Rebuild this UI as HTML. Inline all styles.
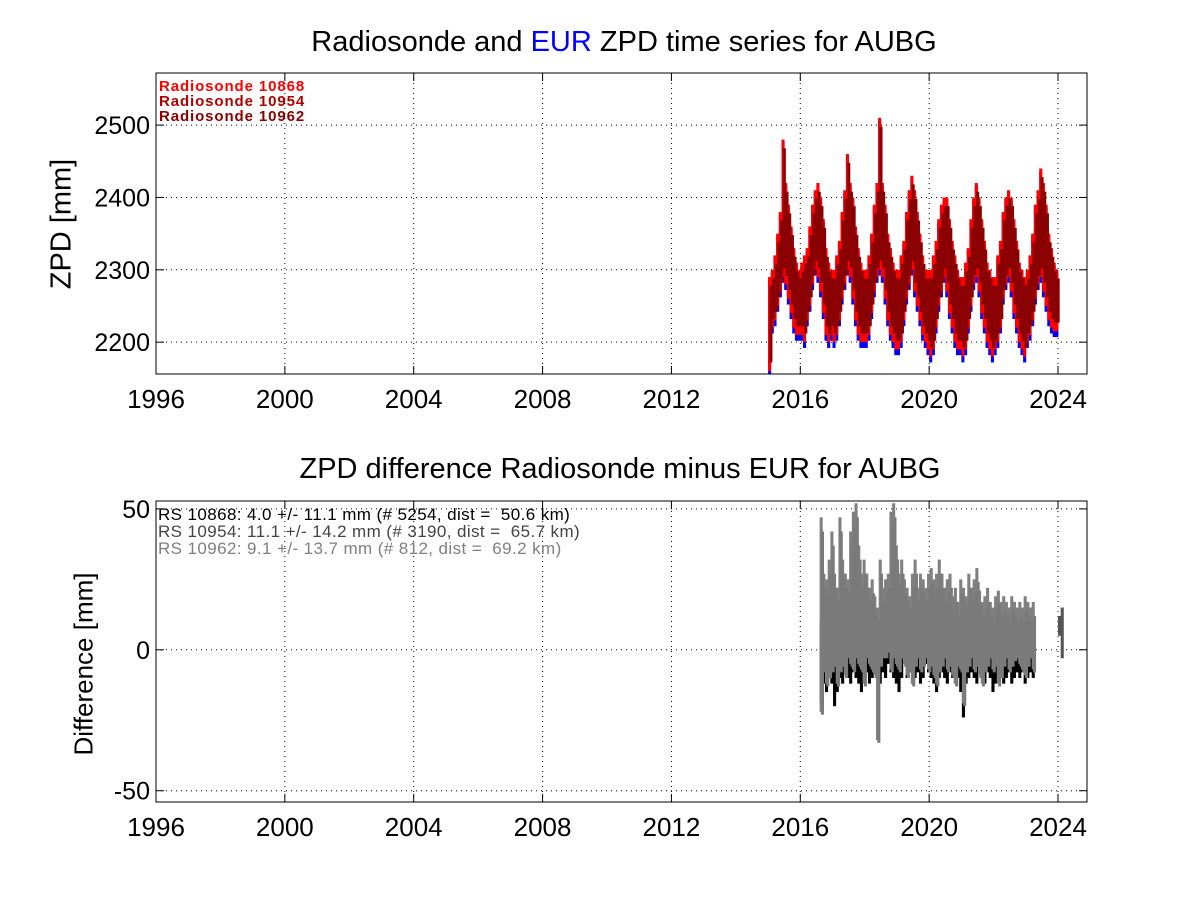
<!DOCTYPE html>
<html><head><meta charset="utf-8"><style>
body{margin:0;background:#fff;}
svg{display:block;font-family:"Liberation Sans",sans-serif;}
</style></head><body>
<svg id="c" width="1201" height="901" viewBox="0 0 1201 901">
<rect width="1201" height="901" fill="#fff"/>
</svg>
<script>
// ---------- data ----------
const xTicks = [1996,2000,2004,2008,2012,2016,2020,2024];
const zpdTicks = [2200,2300,2400,2500];
const diffTicks = [-50,0,50];
const zpdStart = 2015.0;
const rsHi = [2290,2300,2320,2350,2380,2480,2420,2390,2360,2330,2310,2300,
 2310,2320,2330,2360,2390,2410,2420,2400,2370,2330,2310,2300,
 2300,2320,2340,2380,2410,2460,2420,2400,2360,2330,2310,2300,
 2300,2320,2350,2390,2420,2510,2420,2390,2350,2330,2310,2300,
 2300,2320,2340,2380,2410,2430,2410,2380,2350,2320,2300,2300,
 2300,2320,2340,2370,2390,2400,2400,2370,2340,2320,2300,2290,
 2290,2310,2330,2370,2400,2420,2400,2370,2340,2310,2300,2290,
 2290,2320,2340,2380,2400,2410,2400,2370,2340,2310,2300,2290,
 2300,2320,2350,2390,2410,2440,2420,2390,2350,2330,2310,2300];
const rsLo = [2160,2220,2230,2250,2270,2290,2280,2260,2240,2220,2210,2210,
 2210,2200,2230,2250,2280,2300,2290,2270,2240,2210,2200,2210,
 2200,2210,2230,2260,2280,2300,2290,2260,2230,2210,2200,2200,
 2200,2210,2240,2270,2290,2300,2290,2260,2230,2210,2200,2190,
 2190,2200,2230,2260,2280,2300,2270,2250,2230,2210,2200,2190,
 2180,2190,2220,2250,2270,2290,2270,2240,2220,2200,2190,2190,
 2180,2190,2220,2250,2280,2290,2270,2240,2220,2200,2190,2180,
 2190,2200,2220,2260,2280,2290,2270,2240,2220,2200,2190,2180,
 2200,2210,2230,2260,2280,2290,2270,2250,2230,2220,2215,2215];
const diffStart = 2016.6;
const grayHi = [50,30,28,35,45,30,25,50,35,30,28,45,52,55,40,30,35,30,25,28,22,18,35,25,28,30,52,55,40,30,35,28,25,22,30,35,25,30,28,25,30,32,28,30,35,30,25,28,30,22,25,20,28,25,22,30,25,28,32,24,20,22,25,20,18,22,24,20,22,20,18,22,20,18,20,18,22,20,18,20];
const grayLo = [-25,-10,-15,-12,-10,-8,-15,-10,-8,-12,-5,-8,-10,-5,-8,-10,-15,-5,-8,-10,-12,-35,-8,-5,-5,-3,-10,-5,-8,-10,-5,-8,-12,-10,-15,-8,-5,-10,-8,-5,-10,-8,-12,-15,-10,-8,-5,-10,-8,-12,-15,-8,-10,-22,-10,-8,-5,-10,-8,-12,-15,-10,-8,-5,-10,-8,-15,-12,-8,-5,-10,-8,-6,-5,-8,-10,-12,-8,-5,-10];
const blackHi = [10,8,8,10,8,6,8,10,8,6,8,10,8,8,10,8,6,8,10,8,8,8,10,8,8,6,8,10,8,12,14,13,12,8,10,8,10,10,12,14,16,14,12,10,8,10,8,6,8,10,8,8,10,8,6,8,10,8,6,8,10,8,8,10,8,6,8,10,8,6,8,10,8,8,6,8,10,8,8,6];
const blackLo = [-18,-12,-15,-10,-12,-20,-15,-10,-12,-8,-10,-12,-8,-10,-12,-15,-10,-8,-12,-10,-8,-10,-12,-8,-10,-5,-8,-10,-12,-15,-10,-5,-10,-8,-12,-10,-8,-12,-10,-5,-8,-10,-12,-15,-10,-8,-10,-12,-8,-10,-12,-10,-15,-24,-12,-10,-8,-10,-12,-8,-10,-12,-8,-10,-15,-12,-10,-8,-12,-10,-8,-12,-10,-8,-10,-8,-12,-10,-8,-10];
const tailT = [2024.0,2024.1];
const tailHi = [12,15];
const tailLo = [5,-3];

// ---------- layout ----------
const NS="http://www.w3.org/2000/svg";
const svg=document.getElementById('c');
const L=156,R=1087;
const X0=1996,X1=2024.9;
const xs=t=>L+(t-X0)/(X1-X0)*(R-L);
const topA={y0:73,y1:374,v0:2156,v1:2572};
const botA={y0:501,y1:802,v0:-54,v1:52.8};
const ys=(a,v)=>a.y1-(v-a.v0)/(a.v1-a.v0)*(a.y1-a.y0);
function mk(tag,attrs,parent){const e=document.createElementNS(NS,tag);for(const k in attrs)e.setAttribute(k,attrs[k]);(parent||svg).appendChild(e);return e;}

function axes(a,yt,name){
  const g=mk('g',{});
  
  
  xTicks.forEach(t=>{const x=xs(t);
    mk('line',{x1:x,x2:x,y1:a.y0,y2:a.y1,stroke:'#000','stroke-width':1,'stroke-dasharray':'1,4'},g);
    mk('line',{x1:x,x2:x,y1:a.y1,y2:a.y1-8,stroke:'#000'},g);
    mk('line',{x1:x,x2:x,y1:a.y0,y2:a.y0+8,stroke:'#000'},g);
    const tx=mk('text',{x:x,y:a.y1+34,'font-size':26,'text-anchor':'middle'},g);tx.textContent=t;
    
    
  });
  yt.forEach(v=>{const y=ys(a,v);
    mk('line',{x1:L,x2:R,y1:y,y2:y,stroke:'#000','stroke-width':1,'stroke-dasharray':'1,4'},g);
    mk('line',{x1:L,x2:L+8,y1:y,y2:y,stroke:'#000'},g);
    mk('line',{x1:R,x2:R-8,y1:y,y2:y,stroke:'#000'},g);
    const tx=mk('text',{x:L-6,y:y+9,'font-size':25,'text-anchor':'end'},g);tx.textContent=v;
    
    
  });
  return g;
}
function band(a,start,hi,lo,color,shrink,name){
  const g=mk('g',{fill:color});
  
  
  const w=xs(start+1/12)-xs(start);
  hi.forEach((h,i)=>{
    const x=xs(start+i/12);
    const yh=ys(a,h-shrink), yl=ys(a,lo[i]+shrink);
    mk('rect',{x:x,y:Math.max(a.y0,yh),width:w+0.4,height:Math.max(1,Math.min(a.y1,yl)-Math.max(a.y0,yh))},g);
  });
  return g;
}
axes(topA,zpdTicks,'zpd');
band(topA,zpdStart,rsHi.map(v=>v-4),rsLo.map(v=>v-8),'#0000ff',0,'eur-series');
band(topA,zpdStart,rsHi,rsLo,'#ff0000',0,'radiosonde-10868-series');
band(topA,zpdStart+0.04,rsHi,rsLo,'#8b0000',12,'radiosonde-10954-series');
mk('rect',{x:L,y:topA.y0,width:R-L,height:topA.y1-topA.y0,fill:'none',stroke:'#000'});
axes(botA,diffTicks,'diff');
band(botA,diffStart,blackHi,blackLo,'#000000',0,'diff-10868-series');
band(botA,diffStart,grayHi,grayLo,'#808080',3,'diff-10962-series');
band(botA,diffStart+0.04,grayHi.map(v=>v-8),grayLo.map(v=>v+2),'#7a7a7a',0,'diff-10954-series');
band(botA,tailT[0],tailHi,tailLo,'#555',0,'diff-tail-series');
mk('rect',{x:L,y:botA.y0,width:R-L,height:botA.y1-botA.y0,fill:'none',stroke:'#000'});
</script>
<div style="position:absolute;left:0;top:0;width:1201px;height:901px;pointer-events:none;font-family:'Liberation Sans',sans-serif;">
 <div style="position:absolute;left:0;width:1248px;top:25px;text-align:center;font-size:29px;line-height:34px;">Radiosonde and <span style="color:#00f">EUR</span> ZPD time series for AUBG</div>
 <div style="position:absolute;left:0;width:1240px;top:452px;text-align:center;font-size:29px;line-height:34px;">ZPD difference Radiosonde minus EUR for AUBG</div>
 <div style="position:absolute;left:62px;top:224px;transform:translate(-50%,-50%) rotate(-90deg);font-size:29px;white-space:nowrap;">ZPD [mm]</div>
 <div style="position:absolute;left:84px;top:664px;transform:translate(-50%,-50%) rotate(-90deg);font-size:26px;white-space:nowrap;">Difference [mm]</div>
 <div style="position:absolute;left:159px;top:79px;font-size:15px;line-height:15px;font-weight:bold;letter-spacing:0.9px;">
  <div style="color:#f00">Radiosonde 10868</div>
  <div style="color:#b00000">Radiosonde 10954</div>
  <div style="color:#8b0000">Radiosonde 10962</div>
 </div>
 <div style="position:absolute;left:158px;top:506px;font-size:17px;line-height:17px;letter-spacing:0.4px;">
  <div style="color:#000">RS 10868: 4.0 +/- 11.1 mm (# 5254, dist =&nbsp; 50.6 km)</div>
  <div style="color:#444">RS 10954: 11.1 +/- 14.2 mm (# 3190, dist =&nbsp; 65.7 km)</div>
  <div style="color:#808080">RS 10962: 9.1 +/- 13.7 mm (# 812, dist =&nbsp; 69.2 km)</div>
 </div>
</div>
</body></html>
